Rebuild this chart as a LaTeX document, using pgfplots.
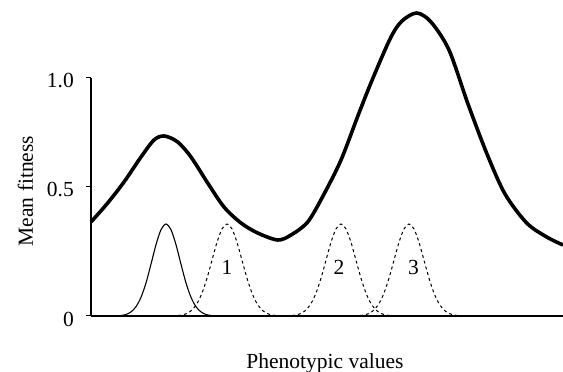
\documentclass[border=0pt]{standalone}
\usepackage{fontspec}
\setmainfont{Liberation Serif}
\usepackage{pgfplots}
\pgfplotsset{compat=1.18}
\begin{document}
\begin{tikzpicture}
\begin{axis}[
  x=1pt, y=1pt,
  xmin=0, xmax=472, ymin=0, ymax=238,
  axis x line=bottom, axis y line=left,
  axis line style={-, black},
  x axis line style={line width=2pt},
  y axis line style={line width=1.2pt},
  xtick=\empty,
  ytick={0,129,238}, yticklabels={{0\hspace{-9pt}},{0.5},{1.0}},
  tick style={black, line width=1pt},
  tick align=outside, major tick length=5pt,
  yticklabel style={font=\fontsize{21.5}{25}\selectfont, inner sep=0pt, xshift=-12pt, yshift=-3pt},
  xlabel={Phenotypic values}, ylabel={Mean fitness},
  label style={font=\fontsize{21.5}{25}\selectfont, inner sep=0pt},
  xlabel style={at={(axis description cs:0.4958,-0.2185)}, anchor=base},
  ylabel style={at={(axis description cs:-0.1229,0.525)}, anchor=base},
  clip=false,
]
% mean fitness
\addplot[black, line width=3.6pt, smooth, tension=0.5] coordinates {
(0,94) (16.7,113) (33,134) (50,159) (63,176) (73.3,180) (86.7,174) (100,159) (116.7,133) (133,109) (150,93) (166.7,83) (186.7,76) (200,81) (216.7,94) (232,120) (250,156) (268,203) (282.4,239) (300,279) (311,295) (325.7,303) (340,294) (358,266) (377,212) (396,162) (414,122) (435.7,93) (455.7,79) (472,71)
};
% current population (solid)
\addplot[black, line width=1.1pt, smooth] coordinates {
(0,0) (25,0.1) (30,0.5) (35,1.5) (40,4.1) (45,9.3) (50,18.7) (55,33.1) (60,51.8) (65,71.3) (70,86.3) (75,92) (80,86.3) (85,71.3) (90,51.8) (95,33.1) (100,18.7) (105,9.3) (110,4.1) (115,1.5) (120,0.5) (125,0.1) (130,0)
};
% population 1
\addplot[black, line width=1pt, dash pattern=on 3pt off 3pt, smooth] coordinates {
(81,0.1) (86,0.4) (91,1) (96,2.6) (101,6) (106,12.5) (111,22.9) (116,37.8) (121,55.8) (126,73.7) (131,87) (136,92) (141,87) (146,73.7) (151,55.8) (156,37.8) (161,22.9) (166,12.5) (171,6) (176,2.6) (181,1) (186,0.4) (191,0.1)
};
% population 2
\addplot[black, line width=1pt, dash pattern=on 3pt off 3pt, smooth] coordinates {
(195,0.1) (200,0.4) (205,1) (210,2.6) (215,6) (220,12.5) (225,22.9) (230,37.8) (235,55.8) (240,73.7) (245,87) (250,92) (255,87) (260,73.7) (265,55.8) (270,37.8) (275,22.9) (280,12.5) (285,6) (290,2.6) (295,1) (300,0.4) (305,0.1)
};
% population 3
\addplot[black, line width=1pt, dash pattern=on 3pt off 3pt, smooth] coordinates {
(263,0.1) (268,0.4) (273,1) (278,2.6) (283,6) (288,12.5) (293,22.9) (298,37.8) (303,55.8) (308,73.7) (313,87) (318,92) (323,87) (328,73.7) (333,55.8) (338,37.8) (343,22.9) (348,12.5) (353,6) (358,2.6) (363,1) (368,0.4) (373,0.1)
};
\node[font=\fontsize{21.5}{25}\selectfont, inner sep=0pt] at (axis cs:136,49) {1};
\node[font=\fontsize{21.5}{25}\selectfont, inner sep=0pt] at (axis cs:248,49) {2};
\node[font=\fontsize{21.5}{25}\selectfont, inner sep=0pt] at (axis cs:322.5,49) {3};
\coordinate (O) at (axis cs:0,0);
\end{axis}
\pgfresetboundingbox
\path (O) ++(-91pt,-56pt) rectangle ++(563pt,372pt);
\end{tikzpicture}
\end{document}
